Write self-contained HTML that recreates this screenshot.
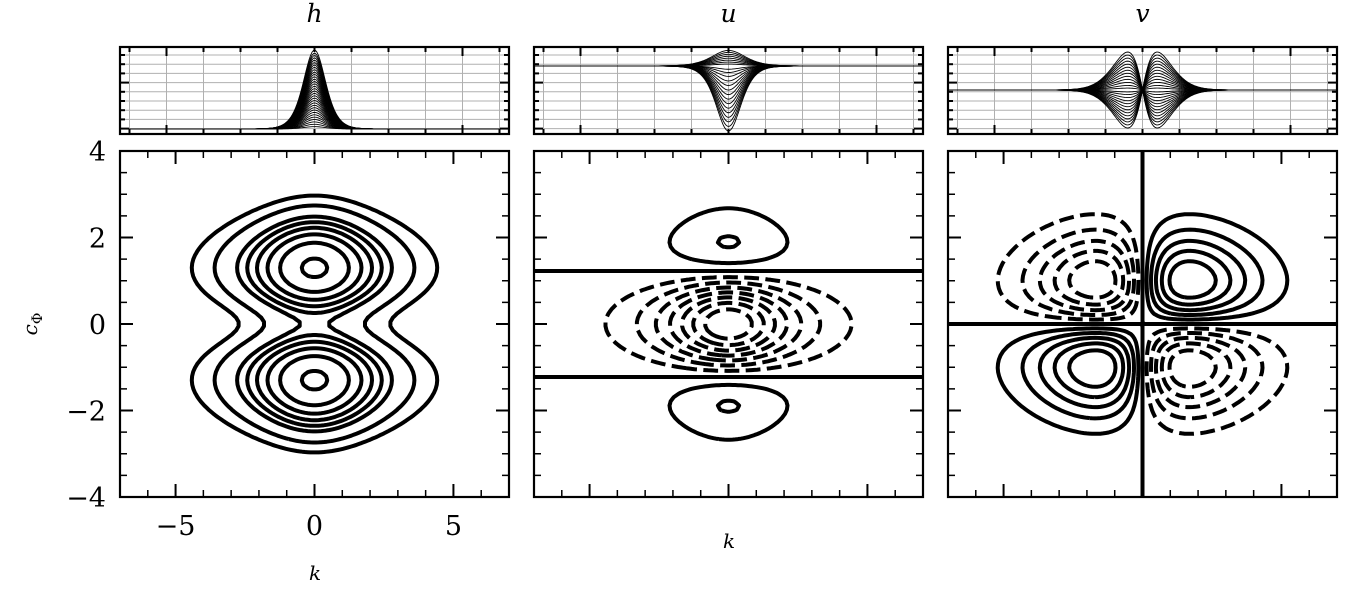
<!DOCTYPE html>
<html><head><meta charset="utf-8">
<style>
html,body{margin:0;padding:0;background:#fff;}
svg{display:block;}
text{font-family:"DejaVu Serif","Liberation Serif",serif;fill:#000;}
</style></head>
<body>
<svg id="fig" width="1350" height="600" viewBox="0 0 1350 600" xmlns="http://www.w3.org/2000/svg">
<defs>
<clipPath id="clipH"><rect x="120" y="151" width="389" height="346"/></clipPath>
<clipPath id="clipU"><rect x="534" y="151" width="389" height="346"/></clipPath>
<clipPath id="clipV"><rect x="948" y="151" width="389" height="346"/></clipPath>
<clipPath id="clipTH"><rect x="120" y="47" width="389" height="87"/></clipPath>
<clipPath id="clipTU"><rect x="534" y="47" width="389" height="87"/></clipPath>
<clipPath id="clipTV"><rect x="948" y="47" width="389" height="87"/></clipPath>
</defs>
</svg>
<script>
// ---- chart data ----
const hLevels = [0.126, 0.209, 0.34, 0.42, 0.51, 0.62, 0.76, 0.96];
const uLevels = [-0.875, -0.75, -0.625, -0.5, -0.375, -0.25, -0.125, 0, 0.125, 0.245];
const vLevels = [-0.833, -0.667, -0.5, -0.333, -0.167, 0, 0.167, 0.333, 0.5, 0.667, 0.833];
const xMajorTicks = [-5, 0, 5];
const xTickLabels = ["\u22125", "0", "5"];
const yMajorTicks = [-4, -2, 0, 2, 4];
const yTickLabels = ["\u22124", "\u22122", "0", "2", "4"];
const panelTitles = ["h", "u", "v"];
const hAmps = [0.03,0.06,0.09,0.12,0.15,0.18,0.21,0.24,0.27,0.3,0.33,0.36,0.39,0.42,0.45,0.48,0.51,0.54,0.57,0.6,0.63,0.66,0.69,0.72,0.75,0.78,0.81,0.84,0.87,0.9,0.93,0.96,1.0];
const uAmps = [-1,-0.93,-0.86,-0.79,-0.72,-0.65,-0.58,-0.51,-0.44,-0.37,-0.3,-0.23,-0.16,-0.1,-0.05,0.03,0.06,0.09,0.12,0.15,0.18,0.21,0.24];
const vAmps = [-1,-0.92,-0.84,-0.76,-0.68,-0.6,-0.52,-0.44,-0.36,-0.28,-0.2,-0.12,-0.05,0.05,0.12,0.2,0.28,0.36,0.44,0.52,0.6,0.68,0.76,0.84,0.92,1];

// ---- geometry ----
const NS = "http://www.w3.org/2000/svg";
const svg = document.getElementById('fig');
const PX = [120, 534, 948], PW = 389, MT = 151, MH = 346, TT = 47, TH = 87;
const K0 = -7, K1 = 7, C0 = -4, C1 = 4;
function mk(tag, attrs, parent) {
  const e = document.createElementNS(NS, tag);
  for (const a in attrs) e.setAttribute(a, attrs[a]);
  (parent || svg).appendChild(e);
  return e;
}
function xs(p, k) { return PX[p] + (k - K0) / (K1 - K0) * PW; }
function ys(c) { return MT + (C1 - c) / (C1 - C0) * MH; }

// ---- field models ----
function sech(x) { return 2 / (Math.exp(x) + Math.exp(-x)); }
function fieldH(k, c) { const cc = c / 1.08; return sech(k / 1.6) * (0.26 + cc * cc) * Math.exp(-cc * cc / 1.7) / 0.729; }
function fieldU(k, c) { return sech(k / 1.6) * (c * c - 1.5) * Math.exp(-c * c / 2.1) / 1.5; }
function fieldV(k, c) {
  const a = Math.abs(k) / 1.7;
  return (k / 1.7) * Math.exp((1 - Math.pow(a, 1.5)) / 1.5) * c * Math.exp((1 - c * c) / 2);
}

// ---- marching squares with chaining ----
const NX = 150, NY = 90, GX0 = -7.3, GX1 = 7.3, GY0 = -4.3, GY1 = 4.3;
const gk = [], gc = [];
for (let i = 0; i < NX; i++) gk.push(GX0 + (GX1 - GX0) * i / (NX - 1));
for (let j = 0; j < NY; j++) gc.push(GY0 + (GY1 - GY0) * j / (NY - 1));
function grid(f) { const F = []; for (let j = 0; j < NY; j++) { const r = []; for (let i = 0; i < NX; i++) r.push(f(gk[i], gc[j])); F.push(r); } return F; }
function contourPaths(F, L) {
  const pts = {}, segs = [], inc = {};
  function cross(key, x0, y0, a, x1, y1, b) {
    if (!(key in pts)) { const t = (L - a) / (b - a); pts[key] = [x0 + t * (x1 - x0), y0 + t * (y1 - y0)]; }
    return key;
  }
  function addSeg(a, b) { const id = segs.length; segs.push([a, b]); (inc[a] = inc[a] || []).push(id); (inc[b] = inc[b] || []).push(id); }
  for (let j = 0; j < NY - 1; j++) for (let i = 0; i < NX - 1; i++) {
    const v0 = F[j][i], v1 = F[j][i + 1], v2 = F[j + 1][i + 1], v3 = F[j + 1][i];
    const x0 = gk[i], x1 = gk[i + 1], y0 = gc[j], y1 = gc[j + 1];
    const e = [];
    e[0] = ((v0 > L) !== (v1 > L)) ? cross('h' + i + ',' + j, x0, y0, v0, x1, y0, v1) : null;
    e[1] = ((v1 > L) !== (v2 > L)) ? cross('v' + (i + 1) + ',' + j, x1, y0, v1, x1, y1, v2) : null;
    e[2] = ((v3 > L) !== (v2 > L)) ? cross('h' + i + ',' + (j + 1), x0, y1, v3, x1, y1, v2) : null;
    e[3] = ((v0 > L) !== (v3 > L)) ? cross('v' + i + ',' + j, x0, y0, v0, x0, y1, v3) : null;
    const act = e.filter(x => x !== null);
    if (act.length === 2) addSeg(act[0], act[1]);
    else if (act.length === 4) {
      const cen = (v0 + v1 + v2 + v3) / 4;
      if ((cen > L) === (v0 > L)) { addSeg(e[0], e[1]); addSeg(e[2], e[3]); }
      else { addSeg(e[0], e[3]); addSeg(e[1], e[2]); }
    }
  }
  const used = new Array(segs.length).fill(false), paths = [];
  function walk(start) {
    const p = [start]; let cur = start;
    while (true) {
      const ids = (inc[cur] || []).filter(id => !used[id]);
      if (!ids.length) break;
      const id = ids[0]; used[id] = true;
      const nx = segs[id][0] === cur ? segs[id][1] : segs[id][0];
      p.push(nx); cur = nx;
    }
    return p;
  }
  for (const key in inc) if (inc[key].length === 1 && !used[inc[key][0]]) paths.push(walk(key));
  for (let s = 0; s < segs.length; s++) if (!used[s]) paths.push(walk(segs[s][0]));
  return paths.map(p => p.map(k => pts[k]));
}

function drawContours(p, f, levels, clip, name) {
  const F = grid(f);
  const g = mk('g', { 'clip-path': 'url(#' + clip + ')' });
  
  
  levels.forEach(L => {
    const paths = contourPaths(F, L);
    let d = '';
    paths.forEach(pl => { pl.forEach((q, n) => { d += (n ? 'L' : 'M') + xs(p, q[0]).toFixed(1) + ' ' + ys(q[1]).toFixed(1); }); });
    const el = mk('path', { d: d, fill: 'none', stroke: '#000', 'stroke-width': 4, 'stroke-linejoin': 'round' }, g);
    if (L < 0) el.setAttribute('stroke-dasharray', '14.8 6.4');
    
    
  });
}

// ---- main panels ----
function mainAxes(p, name, labels) {
  const g = mk('g', {});
  
  
  const x0 = PX[p], x1 = PX[p] + PW, y0 = MT, y1 = MT + MH;
  for (let k = K0; k <= K1; k++) {
    const maj = xMajorTicks.indexOf(k) >= 0, len = maj ? 13 : 7, x = xs(p, k);
    mk('line', { x1: x, x2: x, y1: y1, y2: y1 - len, stroke: '#000', 'stroke-width': maj ? 2 : 1.5 }, g);
    mk('line', { x1: x, x2: x, y1: y0, y2: y0 + len, stroke: '#000', 'stroke-width': maj ? 2 : 1.5 }, g);
  }
  for (let c = C0; c <= C1; c += 0.5) {
    const maj = yMajorTicks.indexOf(c) >= 0, len = maj ? 13 : 7, y = ys(c);
    mk('line', { x1: x0, x2: x0 + len, y1: y, y2: y, stroke: '#000', 'stroke-width': maj ? 2 : 1.5 }, g);
    mk('line', { x1: x1, x2: x1 - len, y1: y, y2: y, stroke: '#000', 'stroke-width': maj ? 2 : 1.5 }, g);
  }
  const fr = mk('rect', { x: x0, y: y0, width: PW, height: MH, fill: 'none', stroke: '#000', 'stroke-width': 2.2 }, g);
  
  
  if (labels) {
    xMajorTicks.forEach((k, n) => {
      const t = mk('text', { x: xs(p, k), y: 535, 'font-size': 27, 'text-anchor': 'middle' });
      t.textContent = xTickLabels[n];
      
      
    });
    yMajorTicks.forEach((c, n) => {
      const t = mk('text', { x: 106, y: ys(c) + 10, 'font-size': 27, 'text-anchor': 'end' });
      t.textContent = yTickLabels[n];
      
      
    });
  }
}

drawContours(0, fieldH, hLevels, 'clipH', 'h');
drawContours(1, fieldU, uLevels, 'clipU', 'u');
drawContours(2, fieldV, vLevels, 'clipV', 'v');
mainAxes(0, 'h', true);
mainAxes(1, 'u', false);
mainAxes(2, 'v', false);

// ---- top profile panels ----
const TU = 37; // px per top-axis unit
function topPanel(p, name, clip, amps, prof, base, scale) {
  const x0 = PX[p], cx = x0 + PW / 2, x1 = x0 + PW, y0 = TT, y1 = TT + TH;
  const g = mk('g', {});
  
  
  for (let n = -5; n <= 5; n++) mk('line', { x1: cx + n * TU, x2: cx + n * TU, y1: y0, y2: y1, stroke: '#b0b0b0', 'stroke-width': 1 }, g);
  for (let m = 0; m <= 8; m++) mk('line', { x1: x0, x2: x1, y1: 55 + m * 9.2, y2: 55 + m * 9.2, stroke: '#b0b0b0', 'stroke-width': 1 }, g);
  const lg = mk('g', { 'clip-path': 'url(#' + clip + ')' }, g);
  
  
  amps.forEach(a => {
    let d = '';
    for (let px = 0; px <= PW; px += 1.5) {
      const x = (px - PW / 2) / TU;
      d += (px ? 'L' : 'M') + (x0 + px).toFixed(1) + ' ' + (base - scale * prof(x, a)).toFixed(2);
    }
    const el = mk('path', { d: d, fill: 'none', stroke: '#000', 'stroke-width': 0.9 }, lg);
    
    
  });
  for (let n = -5; n <= 5; n++) {
    const maj = Math.abs(n) === 4, len = maj ? 9 : 5, x = cx + n * TU;
    mk('line', { x1: x, x2: x, y1: y0, y2: y0 + len, stroke: '#000', 'stroke-width': 2 }, g);
    mk('line', { x1: x, x2: x, y1: y1, y2: y1 - len, stroke: '#000', 'stroke-width': 2 }, g);
  }
  for (let m = 0; m <= 8; m++) {
    const maj = m === 3 || m === 8, len = maj ? 9 : 5, y = 55 + m * 9.2;
    mk('line', { x1: x0, x2: x0 + len, y1: y, y2: y, stroke: '#000', 'stroke-width': 2 }, g);
    mk('line', { x1: x1, x2: x1 - len, y1: y, y2: y, stroke: '#000', 'stroke-width': 2 }, g);
  }
  const fr = mk('rect', { x: x0, y: y0, width: PW, height: TH, fill: 'none', stroke: '#000', 'stroke-width': 2.2 }, g);
  
  
}
topPanel(0, 'h', 'clipTH', hAmps, (x, a) => a * Math.pow(sech(x / 0.4), 2), 129, 79);
topPanel(1, 'u', 'clipTU', uAmps, (x, a) => a < 0 ? a * Math.pow(sech(x / 0.45), 2) : a * Math.pow(sech(x / 0.6), 2), 66, 65);
topPanel(2, 'v', 'clipTV', vAmps, (x, a) => { const r = Math.abs(x) / 0.4; return a * (x / 0.4) * Math.exp((1 - Math.pow(r, 1.4)) / 1.4); }, 90, 38);

// ---- titles & labels ----
panelTitles.forEach((t, p) => {
  const el = mk('text', { x: PX[p] + PW / 2, y: 22, 'font-size': 25, 'font-style': 'italic', 'text-anchor': 'middle' });
  el.textContent = t;
  
  
});
const xl1 = mk('text', { x: 315, y: 580, 'font-size': 20, 'font-style': 'italic', 'text-anchor': 'middle' });
xl1.textContent = 'k';


const xl2 = mk('text', { x: 729, y: 548, 'font-size': 20, 'font-style': 'italic', 'text-anchor': 'middle' });
xl2.textContent = 'k';


const yl = mk('text', { x: 0, y: 0, 'font-size': 20, 'font-style': 'italic', 'text-anchor': 'middle', transform: 'translate(37 324) rotate(-90)' });


yl.textContent = 'c';
const sub = mk('tspan', { 'font-size': 14, 'font-style': 'normal', dy: 5 }, yl);
sub.textContent = 'Φ';


</script>
</body></html>
